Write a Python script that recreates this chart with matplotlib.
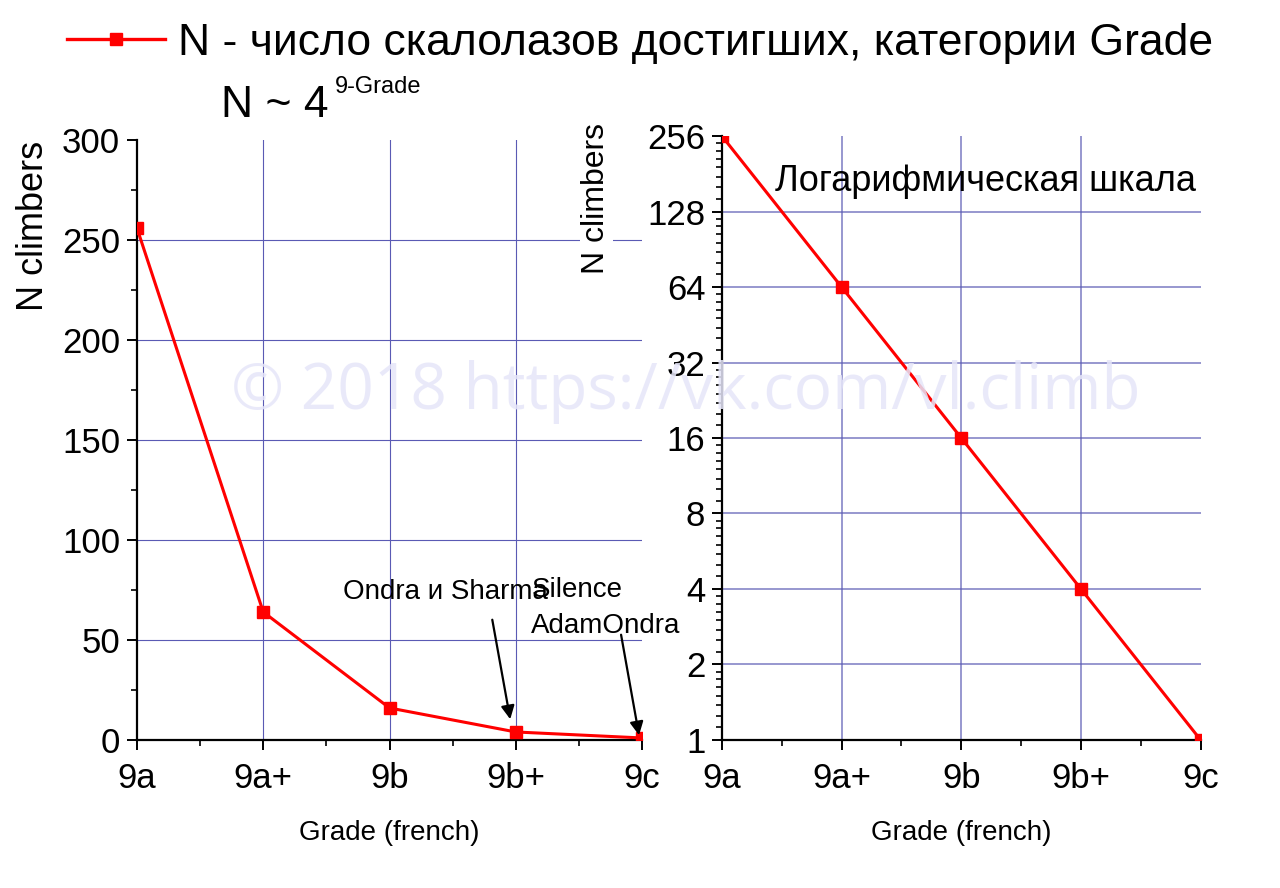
import numpy as np
import matplotlib
matplotlib.use('Agg')
import matplotlib.pyplot as plt
from matplotlib.ticker import FixedLocator, MultipleLocator, NullFormatter
from matplotlib.lines import Line2D

plt.rcParams['font.family'] = ['Liberation Sans', 'DejaVu Sans']

# data
grades = ['9a', '9a+', '9b', '9b+', '9c']
n_climbers = [256, 64, 16, 4, 1]
lin_ticks = [0, 50, 100, 150, 200, 250, 300]
log_ticks = [1, 2, 4, 8, 16, 32, 64, 128, 256]
legend_label = 'N - число скалолазов достигших, категории Grade'
watermark = '© 2018 https://vk.com/vl.climb'

x = np.arange(len(grades))
red = '#ff0000'
gridc = '#5a5ab4'

fig = plt.figure(figsize=(12.8, 8.88), dpi=100)
ax1 = fig.add_axes([0.107, 0.1667, 0.3946, 0.6756])
ax2 = fig.add_axes([0.564, 0.1667, 0.374, 0.6801])


def style(ax):
    for s in ['top', 'right']:
        ax.spines[s].set_visible(False)
    for s in ['left', 'bottom']:
        ax.spines[s].set_linewidth(1.6)
    ax.set_xlim(0, 4)
    ax.set_xticks(x)
    ax.set_xticklabels(grades)
    ax.xaxis.set_minor_locator(MultipleLocator(0.5))
    ax.tick_params(which='major', direction='out', length=7, width=1.4, labelsize=25, pad=5)
    ax.tick_params(axis='x', which='major', pad=9)
    ax.tick_params(which='minor', direction='out', length=4, width=1.2)
    ax.set_xlabel('Grade (french)', fontsize=20, labelpad=18)


# linear plot
style(ax1)
ax1.plot(x, n_climbers, color=red, lw=2.2, marker='s', ms=8, zorder=3)
ax1.set_ylim(0, 300)
ax1.set_yticks(lin_ticks)
ax1.yaxis.set_minor_locator(MultipleLocator(25))
ax1.grid(True, which='major', color=gridc, lw=0.8)
ax1.set_axisbelow(True)
ax1.yaxis.get_gridlines()[-1].set_visible(False)
ax1.xaxis.get_gridlines()[0].set_visible(False)
ax1.xaxis.get_gridlines()[-1].set_visible(False)

ax1.annotate('', xy=(2.96, 9), xytext=(2.81, 61.5),
             arrowprops=dict(arrowstyle='-|>', color='black', lw=1.6, mutation_scale=20))
ax1.annotate('', xy=(3.98, 1), xytext=(3.83, 54),
             arrowprops=dict(arrowstyle='-|>', color='black', lw=1.6, mutation_scale=20))
ax1.text(2.44, 74, 'Ondra и Sharma', fontsize=20, ha='center', va='center')
ax1.text(3.13, 75, 'Silence', fontsize=20, ha='left', va='center')
ax1.text(3.12, 57, 'AdamOndra', fontsize=20, ha='left', va='center', clip_on=False)

# log plot
style(ax2)
ax2.plot(x, n_climbers, color=red, lw=2.2, marker='s', ms=8, zorder=3)
ax2.set_yscale('log', base=2)
ax2.set_ylim(1, 256)
ax2.yaxis.set_major_locator(FixedLocator(log_ticks))
ax2.set_yticklabels([str(t) for t in log_ticks])
minor = [t * s for t in log_ticks[:-1] for s in np.arange(1.125, 2, 0.125)]
ax2.yaxis.set_minor_locator(FixedLocator(minor))
ax2.yaxis.set_minor_formatter(NullFormatter())
ax2.grid(True, which='major', color=gridc, lw=1.1, alpha=0.8)
ax2.set_axisbelow(True)
ax2.yaxis.get_gridlines()[-1].set_visible(False)
ax2.xaxis.get_gridlines()[0].set_visible(False)
ax2.xaxis.get_gridlines()[-1].set_visible(False)
ax2.text(0.551, 0.925, 'Логарифмическая шкала', transform=ax2.transAxes,
         fontsize=26, ha='center', va='center')

# axis labels
fig.text(0.026, 0.746, 'N climbers', rotation=90, fontsize=26, ha='center', va='center')
fig.text(0.466, 0.777, 'N climbers', rotation=90, fontsize=23, ha='center', va='center',
         bbox=dict(facecolor='white', edgecolor='none', pad=1))

# legend and formula
handle = Line2D([], [], color=red, lw=2.4, marker='s', ms=8.5)
fig.legend([handle], [legend_label], loc='center', bbox_to_anchor=(0.5, 0.951),
           frameon=False, fontsize=32, handlelength=2.2, handletextpad=0.3)
fig.text(0.173, 0.881, 'N ~ 4', fontsize=32, ha='left', va='center')
fig.text(0.262, 0.902, '9-Grade', fontsize=17, ha='left', va='center')

# watermark
fig.text(0.536, 0.558, watermark, fontsize=46, family='Open Sans', color='#e6e6f9',
         alpha=0.85, ha='center', va='center', zorder=10)

fig.savefig('out.png', dpi=100)
